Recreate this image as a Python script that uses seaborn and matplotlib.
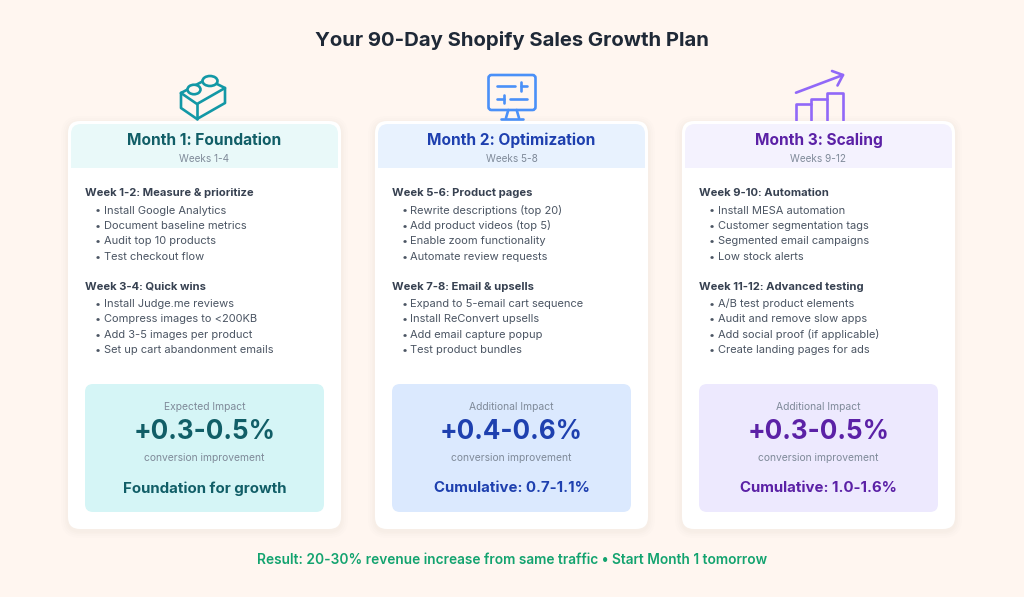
import numpy as np
import matplotlib
matplotlib.use("Agg")
import matplotlib.pyplot as plt
from matplotlib.patches import FancyBboxPatch, Rectangle, Ellipse
import seaborn as sns

sns.set_theme(style="white")
plt.rcParams['font.family'] = ['Inter', 'DejaVu Sans']

TITLE = "Your 90-Day Shopify Sales Growth Plan"
FOOTER = "Result: 20-30% revenue increase from same traffic • Start Month 1 tomorrow"
months = ["Month 1: Foundation", "Month 2: Optimization", "Month 3: Scaling"]
weeks = ["Weeks 1-4", "Weeks 5-8", "Weeks 9-12"]
head_a = ["Week 1-2: Measure & prioritize", "Week 5-6: Product pages", "Week 9-10: Automation"]
head_b = ["Week 3-4: Quick wins", "Week 7-8: Email & upsells", "Week 11-12: Advanced testing"]
items_a = [
    ["Install Google Analytics", "Document baseline metrics", "Audit top 10 products", "Test checkout flow"],
    ["Rewrite descriptions (top 20)", "Add product videos (top 5)", "Enable zoom functionality", "Automate review requests"],
    ["Install MESA automation", "Customer segmentation tags", "Segmented email campaigns", "Low stock alerts"],
]
items_b = [
    ["Install Judge.me reviews", "Compress images to <200KB", "Add 3-5 images per product", "Set up cart abandonment emails"],
    ["Expand to 5-email cart sequence", "Install ReConvert upsells", "Add email capture popup", "Test product bundles"],
    ["A/B test product elements", "Audit and remove slow apps", "Add social proof (if applicable)", "Create landing pages for ads"],
]
impact_label = ["Expected Impact", "Additional Impact", "Additional Impact"]
impact_value = ["+0.3-0.5%", "+0.4-0.6%", "+0.3-0.5%"]
impact_note = ["Foundation for growth", "Cumulative: 0.7-1.1%", "Cumulative: 1.0-1.6%"]
head_bg = ["#e9f9f9", "#e8f2fe", "#f4f2fe"]
box_bg = ["#d5f5f6", "#dbe9fe", "#ede9fe"]
dark = ["#115e67", "#1e40af", "#5b21a6"]
icon_col = ["#1398a6", "#4a90f8", "#9168f8"]
BG = "#fff6f0"

W, H = 1024, 597
fig = plt.figure(figsize=(W / 100, H / 100), dpi=100, facecolor=BG)
ax = fig.add_axes([0, 0, 1, 1])
ax.set_xlim(0, W)
ax.set_ylim(H, 0)
ax.axis("off")
ax.set_facecolor(BG)

def T(x, y, s, px, color, weight="normal", ha="left"):
    ax.text(x, y, s, fontsize=px * 0.72, color=color, fontweight=weight, ha=ha, va="center_baseline")

def rbox(x, y, w, h, r, fc, ec="none", lw=0, alpha=1, z=2):
    p = FancyBboxPatch((x + r, y + r), w - 2 * r, h - 2 * r, boxstyle=f"round,pad={r},rounding_size={r}",
                       fc=fc, ec=ec, lw=lw, alpha=alpha, zorder=z, mutation_aspect=1)
    ax.add_patch(p)
    return p

T(512, 38.5, TITLE, 20.3, "#1f2937", "bold", "center")
T(512, 558, FOOTER, 13.7, "#13a36f", "semibold", "center")

card_x = [68, 375, 682]
CW, CY, CH = 273, 121, 408
BODY = "#4b5563"
HEAD = "#374151"
for i in range(3):
    x = card_x[i]
    cx = x + CW / 2
    for g, a in zip([7, 5, 3, 1.5], [0.006, 0.008, 0.010, 0.012]):
        rbox(x - g, CY - g + 2, CW + 2 * g, CH + 2 * g, 12 + g, "#7a5a40", alpha=a, z=1)
    rbox(x, CY, CW, CH, 12, "white", z=2)
    hdr = Rectangle((x + 3, CY + 3), CW - 6, 44, fc=head_bg[i], ec="none", zorder=3)
    ax.add_patch(hdr)
    clip = FancyBboxPatch((x + 12, CY + 12), CW - 24, CH - 24, boxstyle="round,pad=9,rounding_size=10",
                          transform=ax.transData, fc="none", ec="none")
    ax.add_patch(clip)
    hdr.set_clip_path(clip)
    T(cx, 139, months[i], 15.5, dark[i], "bold", "center")
    T(cx, 158.5, weeks[i], 10, "#7f8a99", "normal", "center")

    tx = x + 17
    T(tx, 192, head_a[i], 11.2, HEAD, "bold")
    for k, s in enumerate(items_a[i]):
        T(tx + 10, 209.5 + k * 15.35, "•", 11, BODY)
        T(tx + 18.5, 209.5 + k * 15.35, s, 11.1, BODY)
    T(tx, 286, head_b[i], 11.2, HEAD, "bold")
    for k, s in enumerate(items_b[i]):
        T(tx + 10, 303 + k * 15.35, "•", 11, BODY)
        T(tx + 18.5, 303 + k * 15.35, s, 11.1, BODY)

    rbox(x + 17, 384, 239, 128, 8, box_bg[i], z=3)
    T(cx, 406, impact_label[i], 10.3, "#7f8a99", "normal", "center")
    T(cx, 429, impact_value[i], 26, dark[i], "bold", "center")
    T(cx, 457, "conversion improvement", 10.3, "#7f8a99", "normal", "center")
    T(cx, 487, impact_note[i], 15, dark[i], "bold", "center")

# icons
LW = 1.9
kw = dict(lw=LW, solid_capstyle="round", solid_joinstyle="round", zorder=1.5)
c = icon_col[0]
poly = [(181, 93), (207, 79), (225, 88), (225, 103), (197, 119), (181, 108), (181, 93)]
ax.plot(*zip(*poly), color=c, **kw)
ax.plot([181, 197, 225], [93, 104, 88], color=c, **kw)
ax.plot([197, 197], [104, 119], color=c, **kw)
ax.add_patch(Ellipse((194, 89.5), 13, 9.5, fc=BG, ec=c, lw=LW, zorder=1.6))
ax.add_patch(Ellipse((210, 81), 15, 10, fc=BG, ec=c, lw=LW, zorder=1.6))

c = icon_col[1]
rbox(488.5, 75, 47, 35, 3, "none", ec=c, lw=LW, z=1.5)
for xs, ys in [([497, 515], [86, 86]), ([520.5, 527], [86, 86]), ([520.5, 520.5], [82, 91]),
               ([497, 504], [98.7, 98.7]), ([504, 504], [94.5, 103]), ([510, 526.7], [98.7, 98.7]),
               ([508.3, 506], [110, 118]), ([516.7, 519], [110, 118]), ([501, 523], [118.7, 118.7])]:
    ax.plot(xs, ys, color=c, **kw)

c = icon_col[2]
ax.plot([796, 843], [92.7, 75], color=c, **kw)
ax.plot([832, 843, 837.5], [71, 75, 85.5], color=c, **kw)
ax.plot([796, 796, 811, 811], [120, 104.3, 104.3, 120], color=c, **kw)
ax.plot([811, 811, 827, 827], [104.3, 98.7, 98.7, 120], color=c, **kw)
ax.plot([827, 827, 842.5, 842.5], [98.7, 92.7, 92.7, 120], color=c, **kw)

fig.savefig("out.png", dpi=100, facecolor=BG)
